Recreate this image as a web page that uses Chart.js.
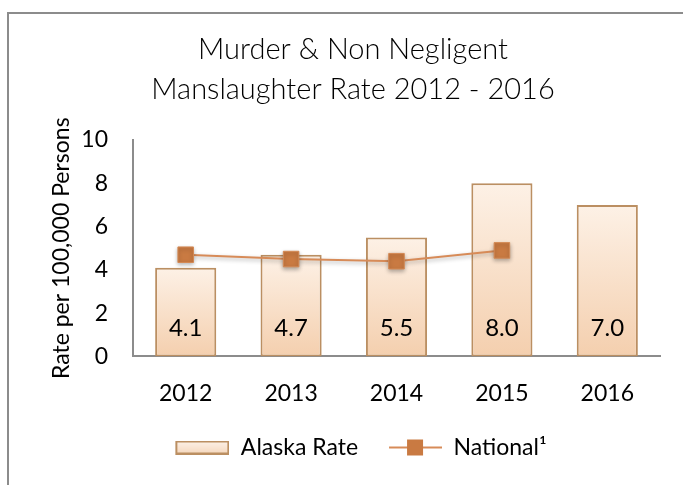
<!DOCTYPE html>
<html lang="en">
<head>
  <meta charset="UTF-8">
  <title>Murder & Non Negligent Manslaughter Rate 2012 - 2016</title>
  <script src="https://cdn.jsdelivr.net/npm/chart.js"></script>
  <style>
    body {
      margin: 0;
      background: #fff;
      overflow: hidden;
    }
    #wrap {
      position: relative;
      width: 683px;
      height: 485px;
    }
    #frame {
      position: absolute;
      left: 7px;
      top: 12px;
      width: 700px;
      height: 500px;
      border: 2px solid #8c8c8c;
      pointer-events: none;
    }
  </style>
</head>
<body>
  <div id="wrap">
    <canvas id="rateChart" width="683" height="485"></canvas>
    <div id="frame"></div>
  </div>

  <script>
    // chart data
    const years = ["2012", "2013", "2014", "2015", "2016"];
    const alaskaRate = [4.1, 4.7, 5.5, 8.0, 7.0];
    const nationalRate = [4.7, 4.5, 4.4, 4.9, null];
    const yTicks = [0, 2, 4, 6, 8, 10];

    const FONT = "Lato, 'Open Sans', sans-serif";
    const barBorder = "#bb8f62";
    const lineColor = "#d78b58";
    const markerColor = "#c97a42";

    // legend icons; both 70 wide, with a blank strip on the left for spacing
    function makeBarIcon() {
      const c = document.createElement("canvas");
      c.width = 70; c.height = 14;
      const g = c.getContext("2d");
      const grad = g.createLinearGradient(0, 0, 0, 14);
      grad.addColorStop(0, "#fdf3ea");
      grad.addColorStop(1, "#f5d6bb");
      g.fillStyle = grad;
      g.fillRect(17, 1, 52, 12);
      g.strokeStyle = barBorder;
      g.lineWidth = 2;
      g.strokeRect(17, 1, 52, 12);
      return c;
    }
    function makeLineIcon() {
      const c = document.createElement("canvas");
      c.width = 70; c.height = 18;
      const g = c.getContext("2d");
      g.strokeStyle = lineColor;
      g.lineWidth = 2;
      g.beginPath();
      g.moveTo(17, 9);
      g.lineTo(70, 9);
      g.stroke();
      g.fillStyle = markerColor;
      g.fillRect(35, 1, 16, 16);
      return c;
    }
    const barIcon = makeBarIcon();
    const lineIcon = makeLineIcon();

    // per-bar vertical gradient
    function barFill(context) {
      const chart = context.chart;
      const area = chart.chartArea;
      if (!area || context.parsed == null) return "#f8e2cf";
      const y = chart.scales.y;
      const top = y.getPixelForValue(context.parsed.y);
      const bottom = y.getPixelForValue(0);
      const grad = chart.ctx.createLinearGradient(0, top, 0, bottom);
      grad.addColorStop(0, "#fdf1e6");
      grad.addColorStop(1, "#f4cfae");
      return grad;
    }

    // value labels inside the bars, near the bottom
    const barLabels = {
      id: "barLabels",
      afterDatasetsDraw(chart) {
        const ctx = chart.ctx;
        const meta = chart.getDatasetMeta(0);
        ctx.save();
        ctx.font = "24px " + FONT;
        ctx.fillStyle = "#000";
        ctx.textAlign = "center";
        ctx.textBaseline = "middle";
        meta.data.forEach((bar, i) => {
          ctx.fillText(alaskaRate[i].toFixed(1), bar.x, bar.base - 28);
        });
        ctx.restore();
      }
    };

    // soft shadow under the national markers
    const markerShadow = {
      id: "markerShadow",
      beforeDatasetDraw(chart, args) {
        if (args.index === 1) {
          chart.ctx.save();
          chart.ctx.shadowColor = "rgba(0,0,0,0.3)";
          chart.ctx.shadowBlur = 4;
          chart.ctx.shadowOffsetY = 2;
        }
      },
      afterDatasetDraw(chart, args) {
        if (args.index === 1) chart.ctx.restore();
      }
    };

    new Chart(document.getElementById("rateChart"), {
      data: {
        labels: years,
        datasets: [
          {
            type: "bar",
            label: "Alaska Rate",
            data: alaskaRate,
            backgroundColor: barFill,
            borderColor: barBorder,
            borderWidth: 2,
            borderSkipped: false,
            categoryPercentage: 1.0,
            barPercentage: 0.58,
            order: 1
          },
          {
            type: "line",
            label: "National\u00b9",
            data: nationalRate,
            borderColor: lineColor,
            borderWidth: 2,
            pointStyle: "rect",
            pointRadius: 11,
            pointBackgroundColor: markerColor,
            pointBorderColor: "#d48a55",
            pointBorderWidth: 1,
            spanGaps: false,
            order: 0
          }
        ]
      },
      plugins: [barLabels, markerShadow],
      options: {
        responsive: false,
        animation: false,
        layout: {
          padding: { left: 46, right: 23, top: 0, bottom: 16 }
        },
        plugins: {
          tooltip: { enabled: false },
          title: {
            display: true,
            text: ["Murder & Non Negligent", "Manslaughter Rate 2012 - 2016"],
            color: "#000",
            font: { family: FONT, size: 29, weight: "300", lineHeight: 1.38 },
            padding: { top: 30, bottom: 30 }
          },
          legend: {
            position: "bottom",
            labels: {
              usePointStyle: true,
              pointStyleWidth: 70,
              padding: 14,
              color: "#000",
              font: { family: FONT, size: 23 },
              generateLabels() {
                return [
                  { text: "Alaska Rate", pointStyle: barIcon, datasetIndex: 0, fillStyle: "transparent", strokeStyle: "transparent", lineWidth: 0 },
                  { text: "National\u00b9", pointStyle: lineIcon, datasetIndex: 1, fillStyle: "transparent", strokeStyle: "transparent", lineWidth: 0 }
                ];
              }
            }
          }
        },
        scales: {
          x: {
            grid: { display: false },
            border: { display: true, color: "#8c8c8c", width: 2 },
            ticks: {
              color: "#000",
              font: { family: FONT, size: 23 },
              padding: 15
            }
          },
          y: {
            min: 0,
            max: 10,
            afterBuildTicks(scale) {
              scale.ticks = yTicks.map(v => ({ value: v }));
            },
            afterFit(scale) {
              scale.width = 87;
            },
            grid: { display: false },
            border: { display: true, color: "#8c8c8c", width: 2 },
            title: {
              display: true,
              text: "Rate per 100,000 Persons",
              color: "#000",
              font: { family: FONT, size: 23 },
              padding: { top: 2, bottom: 6 }
            },
            ticks: {
              color: "#000",
              font: { family: FONT, size: 23 },
              padding: 17
            }
          }
        }
      }
    });
  </script>
</body>
</html>
